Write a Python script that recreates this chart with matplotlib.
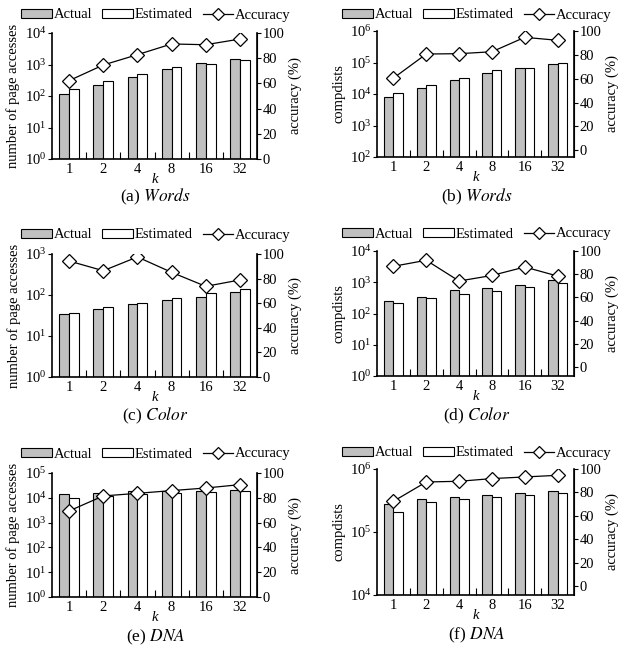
import numpy as np
import matplotlib
matplotlib.use("Agg")
import matplotlib.pyplot as plt
from matplotlib.patches import Patch
from matplotlib.lines import Line2D
from matplotlib.ticker import LogLocator, NullLocator, FixedLocator

plt.rcParams['font.family'] = ['Liberation Serif', 'DejaVu Serif']
plt.rcParams['mathtext.fontset'] = 'stix'

k_labels = ["1", "2", "4", "8", "16", "32"]

# (a) Words, page accesses
a_actual = [115, 230, 410, 720, 1120, 1490]
a_est = [166, 300, 490, 810, 1020, 1380]
a_acc = [62.2, 74.6, 82.8, 91.3, 90.7, 95.2]

# (b) Words, compdists
b_actual = [7800, 16000, 27500, 47000, 68000, 87000]
b_est = [11000, 19000, 32500, 56000, 65000, 96000]
b_acc = [60.5, 80.7, 81.0, 82.6, 94.7, 92.2]

# (c) Color, page accesses
c_actual = [35, 45, 61, 74, 88, 120]
c_est = [37, 51, 65, 86, 114, 142]
c_acc = [94.3, 86.4, 97.6, 85.1, 73.7, 78.9]

# (d) Color, compdists
d_actual = [251, 330, 550, 650, 815, 1180]
d_est = [217, 305, 410, 540, 720, 950]
d_acc = [86.8, 92.0, 74.1, 78.9, 86.2, 78.4]

# (e) DNA, page accesses
e_actual = [13800, 16000, 18300, 18800, 19300, 21300]
e_est = [9800, 12200, 14200, 15600, 17100, 19300]
e_acc = [69.4, 81.5, 83.6, 85.8, 87.9, 90.6]

# (f) DNA, compdists
f_actual = [276000, 335000, 365000, 388000, 412000, 443000]
f_est = [209000, 300000, 330000, 364000, 388000, 422000]
f_acc = [72.4, 88.9, 89.5, 91.8, 93.2, 94.6]

W, H = 637, 653
fig = plt.figure(figsize=(W / 100, H / 100), dpi=100)

GRAY = "#c0c0c0"
FS = 10.5


def px_axes(l, t, r, b):
    return [l / W, 1 - b / H, (r - l) / W, (b - t) / H]


def panel(box, actual, est, acc, ylab, ylim, acc_lim, letter, name, leg_y, cap_y):
    ax = fig.add_axes(px_axes(*box))
    x = np.arange(len(k_labels))
    bw = 0.29
    ax.bar(x - bw / 2, actual, bw, color=GRAY, edgecolor="black", linewidth=0.8, zorder=2)
    ax.bar(x + bw / 2, est, bw, color="white", edgecolor="black", linewidth=0.8, zorder=2)
    ax.set_yscale("log")
    ax.set_ylim(*ylim)
    ax.set_xlim(-0.5, len(k_labels) - 0.5)
    ax.yaxis.set_major_locator(LogLocator(base=10, numticks=10))
    ax.yaxis.set_minor_locator(NullLocator())
    ax.set_xticks(x)
    ax.set_xticklabels(k_labels, fontsize=FS)
    ax.xaxis.set_minor_locator(FixedLocator(x[:-1] + 0.5))
    ax.tick_params(axis="x", which="major", length=0, pad=3)
    ax.tick_params(axis="x", which="minor", direction="in", length=5, width=0.8)
    ax.tick_params(axis="y", which="major", direction="out", length=3, width=0.8,
                   labelsize=FS, pad=1)
    ax.set_xlabel("k", style="italic", fontsize=FS, labelpad=-2)
    ax.set_ylabel(ylab, fontsize=FS, labelpad=3)
    ax.spines["top"].set_visible(False)
    for s in ("left", "bottom"):
        ax.spines[s].set_linewidth(1.2)

    ax2 = ax.twinx()
    ax2.plot(x, acc, color="black", linewidth=0.9, marker="D", markersize=7,
             markerfacecolor="white", markeredgecolor="black", markeredgewidth=0.9,
             zorder=5)
    ax2.set_ylim(*acc_lim)
    ax2.set_yticks([0, 20, 40, 60, 80, 100])
    ax2.tick_params(axis="y", direction="out", length=3, width=0.8, labelsize=FS, pad=1)
    ax2.set_ylabel("accuracy (%)", fontsize=FS, labelpad=3)
    ax2.spines["top"].set_visible(False)
    ax2.spines["right"].set_linewidth(1.2)
    ax2.spines["left"].set_visible(False)
    ax2.spines["bottom"].set_visible(False)

    handles = [
        Patch(facecolor=GRAY, edgecolor="black", linewidth=0.8, label="Actual"),
        Patch(facecolor="white", edgecolor="black", linewidth=0.8, label="Estimated"),
        Line2D([], [], color="black", linewidth=0.9, marker="D", markersize=6.5,
               markerfacecolor="white", markeredgecolor="black", markeredgewidth=0.9,
               label="Accuracy"),
    ]
    cx = (box[0] + box[2]) / 2 / W + 0.002
    fig.legend(handles=handles, loc="center", bbox_to_anchor=(cx, 1 - leg_y / H),
               ncol=3, frameon=False, fontsize=FS, handlelength=2.1, handleheight=0.55,
               handletextpad=0.1, columnspacing=0.7, borderaxespad=0)
    fig.text(cx, 1 - cap_y / H, "(%s) $\\it{%s}$" % (letter, name), ha="center",
             va="center", fontsize=12.5)
    return ax


panel((52, 33, 257, 159), a_actual, a_est, a_acc, "number of page accesses",
      (1, 1e4), (0, 100), "a", "Words", 15, 197)
panel((377, 31, 574, 157), b_actual, b_est, b_acc, "compdists",
      (1e2, 1e6), (-5.6, 100), "b", "Words", 15, 197)
panel((52, 254, 257, 377), c_actual, c_est, c_acc, "number of page accesses",
      (1, 1e3), (0, 100), "c", "Color", 235, 416)
panel((377, 251, 574, 376), d_actual, d_est, d_acc, "compdists",
      (1, 1e4), (-7.8, 100), "d", "Color", 234, 416)
panel((52, 473, 257, 597), e_actual, e_est, e_acc, "number of page accesses",
      (1, 1e5), (0, 100), "e", "DNA", 454, 637)
panel((377, 469, 574, 595), f_actual, f_est, f_acc, "compdists",
      (1e4, 1e6), (-7.7, 100), "f", "DNA", 453, 635)

fig.savefig("out.png", dpi=100)
